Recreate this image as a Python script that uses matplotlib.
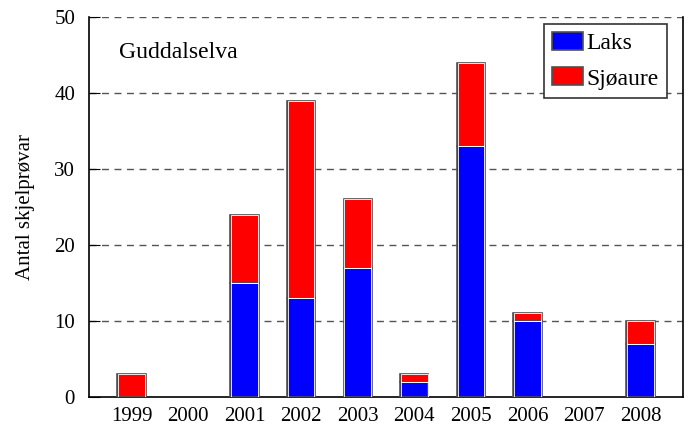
import matplotlib.pyplot as plt
import numpy as np

plt.rcParams['font.family'] = ['Liberation Serif', 'DejaVu Serif']

years = ['1999', '2000', '2001', '2002', '2003', '2004', '2005', '2006', '2007', '2008']
laks = [0, 0, 15, 13, 17, 2, 33, 10, 0, 7]
sjoaure = [3, 0, 9, 26, 9, 1, 11, 1, 0, 3]

fig = plt.figure(figsize=(6.91, 4.28), dpi=100)
ax = fig.add_axes([89 / 691, 31 / 428, 594 / 691, 380 / 428])

x = np.arange(len(years))
laks = np.array(laks)
sjoaure = np.array(sjoaure)
h1 = laks > 0
h2 = sjoaure > 0
b1 = ax.bar(x[h1], laks[h1], width=0.5, color='#0000ff', edgecolor='#505050',
            linewidth=1.2, label='Laks', zorder=3)
b2 = ax.bar(x[h2], sjoaure[h2], width=0.5, bottom=laks[h2], color='#ff0000',
            edgecolor='#505050', linewidth=1.2, label='Sjøaure', zorder=3)
# thin white inner line like the original
ax.bar(x[h1], laks[h1], width=0.47, fill=False, edgecolor='white', linewidth=0.6, zorder=4)
ax.bar(x[h2], sjoaure[h2], width=0.47, bottom=laks[h2], fill=False,
       edgecolor='white', linewidth=0.6, zorder=4)

ax.set_xlim(-0.75, 9.75)
ax.set_ylim(0, 50)
ax.set_yticks([0, 10, 20, 30, 40, 50])
ax.set_xticks(x)
ax.set_xticklabels(years)
ax.tick_params(axis='x', length=0, pad=7, labelsize=15)
ax.tick_params(axis='y', direction='in', length=8, labelsize=15, pad=10)
for yv in [10, 20, 30, 40, 50]:
    ax.axhline(yv, color='#555555', linestyle=(0, (5, 4)), linewidth=1, zorder=1)

ax.spines['top'].set_visible(False)
for s in ['left', 'right', 'bottom']:
    ax.spines[s].set_linewidth(1.2)
    ax.spines[s].set_color('black')

ax.set_ylabel('Antal skjelprøvar', fontsize=15, labelpad=14)
ax.text(0.05, 0.935, 'Guddalselva', transform=ax.transAxes, fontsize=17,
        va='top', ha='left')

leg = ax.legend(handles=[b1, b2], loc='upper right', fontsize=17, fancybox=False,
                edgecolor='#333333', framealpha=1, handlelength=1.3, handleheight=0.8,
                handletextpad=0.15, borderpad=0.35, labelspacing=0.55,
                borderaxespad=0, bbox_to_anchor=(0.973, 0.982))
leg.get_frame().set_linewidth(1.2)

fig.savefig('out.png', dpi=100)
